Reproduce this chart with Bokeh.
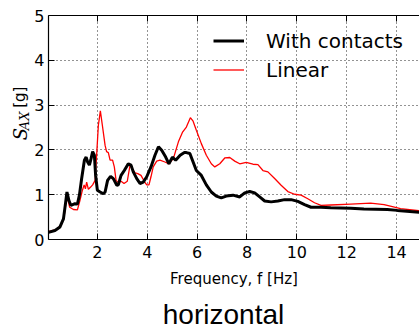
import math
from bokeh.plotting import figure
from bokeh.layouts import row, column
from bokeh.models import (Range1d, FixedTicker, LinearAxis, Legend, LegendItem)
from bokeh.core.properties import value
from bokeh.embed import file_html
from bokeh.resources import INLINE

# ---- data ----
freq_contacts = [0.04, 0.30, 0.50, 0.64, 0.73, 0.78, 0.86, 0.94, 1.10, 1.20, 1.28, 1.37, 1.48, 1.55,
                 1.61, 1.68, 1.75, 1.81, 1.88, 1.93, 2.00, 2.11, 2.24, 2.31, 2.41, 2.53, 2.64, 2.78,
                 2.84, 2.95, 3.08, 3.24, 3.35, 3.44, 3.58, 3.71, 3.84, 3.98, 4.15, 4.31, 4.45, 4.58,
                 4.74, 4.87, 5.01, 5.14, 5.32, 5.49, 5.57, 5.71, 5.84, 5.97, 6.17, 6.37, 6.57, 6.77,
                 6.97, 7.17, 7.44, 7.71, 7.91, 8.11, 8.31, 8.51, 8.71, 8.97, 9.24, 9.51, 9.77, 10.04,
                 10.31, 10.57, 10.97, 11.36, 12.16, 12.69, 13.63, 14.03, 14.92]
sa_contacts = [0.16, 0.20, 0.28, 0.46, 0.84, 1.06, 0.87, 0.76, 0.80, 0.79, 0.99, 1.36, 1.77, 1.84,
               1.73, 1.66, 1.81, 1.96, 1.88, 1.43, 1.10, 1.06, 1.02, 1.06, 1.32, 1.41, 1.36, 1.21,
               1.22, 1.43, 1.54, 1.69, 1.66, 1.51, 1.36, 1.25, 1.28, 1.40, 1.62, 1.88, 2.07, 1.99,
               1.84, 1.69, 1.84, 1.77, 1.88, 1.94, 1.94, 1.92, 1.73, 1.54, 1.43, 1.22, 1.06, 0.97,
               0.93, 0.97, 0.99, 0.95, 1.04, 1.07, 1.04, 0.95, 0.86, 0.84, 0.86, 0.89, 0.89, 0.85,
               0.78, 0.72, 0.72, 0.71, 0.70, 0.68, 0.67, 0.65, 0.61]

freq_linear = [0.04, 0.37, 0.57, 0.68, 0.76, 0.81, 0.89, 1.04, 1.20, 1.30, 1.40, 1.47, 1.52, 1.57,
               1.64, 1.73, 1.81, 1.91, 1.97, 2.04, 2.12, 2.20, 2.31, 2.37, 2.44, 2.51, 2.61, 2.68,
               2.75, 2.84, 2.95, 3.07, 3.20, 3.31, 3.40, 3.51, 3.62, 3.75, 3.88, 3.98, 4.07, 4.15,
               4.24, 4.38, 4.51, 4.71, 4.87, 5.05, 5.25, 5.41, 5.57, 5.73, 5.84, 5.97, 6.17, 6.37,
               6.57, 6.71, 6.91, 7.11, 7.31, 7.51, 7.71, 7.97, 8.24, 8.44, 8.64, 8.84, 9.11, 9.37,
               9.64, 9.91, 10.17, 10.44, 10.71, 10.97, 11.36, 12.16, 12.96, 13.50, 14.16, 14.92]
sa_linear = [0.18, 0.22, 0.35, 0.57, 0.90, 0.91, 0.72, 0.67, 0.66, 0.87, 1.10, 1.22, 1.13, 1.28,
             1.12, 1.17, 1.22, 1.32, 1.88, 2.55, 2.87, 2.55, 2.10, 1.96, 1.94, 1.77, 1.77, 1.62,
             1.32, 1.27, 1.30, 1.25, 1.30, 1.66, 1.58, 1.49, 1.47, 1.43, 1.30, 1.22, 1.22, 1.40,
             1.62, 1.75, 1.77, 1.73, 1.69, 1.81, 2.18, 2.39, 2.51, 2.72, 2.64, 2.44, 2.14, 1.88,
             1.69, 1.62, 1.69, 1.82, 1.83, 1.75, 1.69, 1.72, 1.68, 1.67, 1.54, 1.51, 1.36, 1.21,
             1.07, 1.01, 0.99, 0.91, 0.82, 0.76, 0.77, 0.79, 0.81, 0.78, 0.69, 0.64]

x_ticks = [2, 4, 6, 8, 10, 12, 14]
y_ticks = [0, 1, 2, 3, 4, 5]
series_names = ["With contacts", "Linear"]
x_label = "Frequency, f [Hz]"
y_label_parts = ["S", "AX", "[g]"]
panel_title = "horizontal"

FONT = "DejaVu Sans"
W, H = 419, 329
LEFT_W = 30
MAIN_H = 291


def strip(width, height, y_top):
    """A plain figure whose frame fills it; data coords equal page pixels."""
    f = figure(width=width, height=height, output_backend="svg", toolbar_location=None,
               x_axis_type=None, y_axis_type=None,
               x_range=Range1d(0, width), y_range=Range1d(y_top + height, y_top),
               min_border=0, min_border_left=0, min_border_right=0,
               min_border_top=0, min_border_bottom=0)
    f.grid.visible = False
    f.outline_line_color = None
    f.background_fill_color = "white"
    f.border_fill_color = "white"
    return f


# ---- narrow strip holding the y-axis label ----
lab = strip(LEFT_W, MAIN_H, 0)
rot = math.pi / 2
lab.text(x=[20], y=[162], text=[y_label_parts[0]], angle=rot,
         text_font=value("DejaVu Serif"), text_font_style="italic", text_font_size="18px",
         text_align="left", text_baseline="alphabetic", text_color="black")
lab.text(x=[23.5], y=[149], text=[y_label_parts[1]], angle=rot,
         text_font=value("DejaVu Serif"), text_font_style="italic", text_font_size="13px",
         text_align="left", text_baseline="alphabetic", text_color="black")
lab.text(x=[19.5], y=[120], text=[y_label_parts[2]], angle=rot,
         text_font=value(FONT), text_font_size="15px",
         text_align="left", text_baseline="alphabetic", text_color="black")

# ---- main figure ----
p = figure(width=W - LEFT_W, height=MAIN_H, output_backend="svg", toolbar_location=None,
           x_range=Range1d(0.04, 14.92), y_range=Range1d(0, 5),
           min_border_left=48 - LEFT_W, min_border_right=0, min_border_top=15,
           min_border_bottom=MAIN_H - 239)
p.outline_line_color = None
p.background_fill_color = "white"
p.border_fill_color = "white"

for ax, ticks in ((p.xaxis[0], x_ticks), (p.yaxis[0], y_ticks)):
    ax.ticker = FixedTicker(ticks=ticks)
    ax.major_tick_in = 6
    ax.major_tick_out = 0
    ax.minor_tick_line_color = None
    ax.axis_line_color = "black"
    ax.axis_line_width = 1.2
    ax.major_tick_line_color = "black"
    ax.major_label_text_font = FONT
    ax.major_label_text_font_size = "16px"
    ax.major_label_text_color = "black"
    ax.major_label_standoff = 6
p.yaxis[0].major_label_standoff = 4

p.xaxis[0].axis_label = x_label
p.xaxis[0].axis_label_text_font = FONT
p.xaxis[0].axis_label_text_font_size = "15px"
p.xaxis[0].axis_label_text_font_style = "normal"
p.xaxis[0].axis_label_text_color = "black"
p.xaxis[0].axis_label_standoff = 9

# top spine with inward ticks
top = LinearAxis(ticker=FixedTicker(ticks=x_ticks), major_tick_in=6, major_tick_out=0,
                 minor_tick_line_color=None, major_label_text_font_size="0px",
                 major_label_standoff=0, axis_line_color="black", axis_line_width=1.2)
p.add_layout(top, "above")

for g, ticks in ((p.xgrid[0], x_ticks), (p.ygrid[0], [1, 2, 3, 4])):
    g.ticker = FixedTicker(ticks=ticks)
    g.grid_line_color = "black"
    g.grid_line_alpha = 0.85
    g.grid_line_dash = "1 3"
    g.grid_line_width = 1

r_lin = p.line(freq_linear, sa_linear, line_color="#ff0000", line_width=1.3)
r_con = p.line(freq_contacts, sa_contacts, line_color="black", line_width=3)

legend = Legend(items=[LegendItem(label=series_names[0], renderers=[r_con]),
                       LegendItem(label=series_names[1], renderers=[r_lin])],
                location=(165, 155), padding=0, margin=0, spacing=0,
                glyph_width=31, glyph_height=29, label_height=29, label_standoff=22,
                label_text_font=FONT, label_text_font_size="20px", label_text_color="black",
                border_line_color=None, background_fill_alpha=0)
p.add_layout(legend, "center")

# ---- bottom strip holding the panel title (anchored at the strip's top edge) ----
bottom = strip(W, H - MAIN_H, MAIN_H)
bottom.text(x=[223], y=[MAIN_H], text=[panel_title], y_offset=23,
            text_font=value("Liberation Sans"), text_font_size="28px",
            text_align="center", text_baseline="alphabetic", text_color="black")

layout = column(row(lab, p, spacing=0), bottom, spacing=0)
open("out.html", "w").write(file_html(layout, INLINE))
